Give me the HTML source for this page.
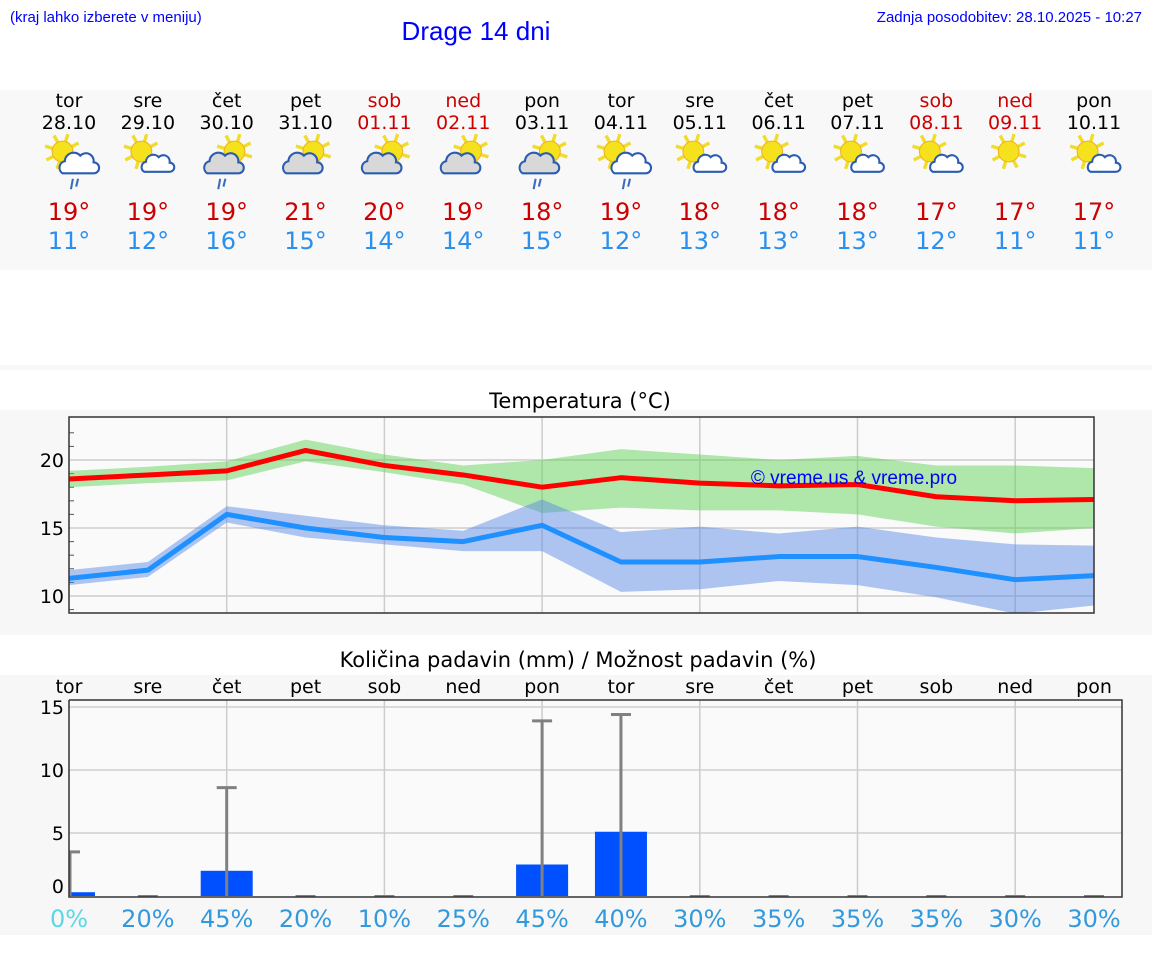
<!DOCTYPE html>
<html><head><meta charset="utf-8">
<style>
html,body{margin:0;padding:0;background:#fff;width:1152px;height:975px;overflow:hidden}
svg{display:block}
</style></head>
<body>
<svg id="root" width="1152" height="975" xmlns="http://www.w3.org/2000/svg">
<rect x="0" y="90" width="1152" height="180" fill="#f8f8f8"/>
<rect x="0" y="365" width="1152" height="5" fill="#f7f7f7"/>
<rect x="0" y="410" width="1152" height="225" fill="#f7f7f7"/>
<rect x="0" y="675" width="1152" height="260" fill="#f7f7f7"/>
<text x="10" y="22" font-family="Liberation Sans, sans-serif" font-size="15" fill="#0000ff">(kraj lahko izberete v meniju)</text>
<text x="476" y="40" text-anchor="middle" font-family="Liberation Sans, sans-serif" font-size="26" fill="#0000ff">Drage 14 dni</text>
<text x="1142" y="22" text-anchor="end" font-family="Liberation Sans, sans-serif" font-size="15" fill="#0000ff">Zadnja posodobitev: 28.10.2025 - 10:27</text>
<g id="days"></g>
<text x="580" y="408" text-anchor="middle" font-family="DejaVu Sans, sans-serif" font-size="21" fill="#000">Temperatura (°C)</text>
<g id="temp"></g>
<text x="578" y="667" text-anchor="middle" font-family="DejaVu Sans, sans-serif" font-size="21" fill="#000">Količina padavin (mm) / Možnost padavin (%)</text>
<g id="precip"></g>
</svg>
<script>
const dayNames=["tor","sre","čet","pet","sob","ned","pon","tor","sre","čet","pet","sob","ned","pon"];
const dates=["28.10","29.10","30.10","31.10","01.11","02.11","03.11","04.11","05.11","06.11","07.11","08.11","09.11","10.11"];
const weekend=[0,0,0,0,1,1,0,0,0,0,0,1,1,0];
const iconType=[2,1,3,4,4,4,3,2,1,1,1,1,0,1];
const tMaxLabel=[19,19,19,21,20,19,18,19,18,18,18,17,17,17];
const tMinLabel=[11,12,16,15,14,14,15,12,13,13,13,12,11,11];
const tMax=[18.6,18.9,19.2,20.7,19.6,18.9,18.0,18.7,18.3,18.1,18.2,17.3,17.0,17.1];
const tMaxHi=[19.2,19.5,19.9,21.5,20.4,19.6,20.0,20.8,20.4,20.0,20.3,19.6,19.6,19.4];
const tMaxLo=[18.0,18.3,18.5,19.9,19.1,18.2,16.1,16.5,16.3,16.3,16.0,15.1,14.6,15.0];
const tMin=[11.3,11.9,16.0,15.0,14.3,14.0,15.2,12.5,12.5,12.9,12.9,12.1,11.2,11.5];
const tMinHi=[11.9,12.5,16.6,15.9,15.2,14.8,17.1,14.7,15.1,14.6,15.1,14.3,13.8,13.7];
const tMinLo=[10.8,11.4,15.4,14.3,13.8,13.3,13.3,10.3,10.5,11.1,10.8,9.9,8.7,9.3];
const tempTicks=[10,15,20];
const precip=[0.3,0,2.0,0,0,0,2.5,5.1,0,0,0,0,0,0];
const precipMax=[3.5,0,8.6,0,0,0,13.9,14.4,0,0,0,0,0,0];
const precipProb=[0,20,45,20,10,25,45,40,30,35,35,35,30,30];
const precipTicks=[0,5,10,15];

const NS="http://www.w3.org/2000/svg";
function mk(tag,attrs,parent,txt){const e=document.createElementNS(NS,tag);for(const k in attrs)e.setAttribute(k,attrs[k]);if(txt!==undefined)e.textContent=txt;parent.appendChild(e);return e;}
const X=i=>69+i*78.85;
const FONT="DejaVu Sans, sans-serif";

const days=document.getElementById('days');
function icon(parent,cx,cy,t){
  const g=mk('g',{transform:`translate(${cx},${cy}) scale(1.3) translate(${-cx},${-cy})`},parent);
  const sx=t===3||t===4?cx+6:cx-5, sy=cy-5;
  const sun=mk('g',{},g);
  
  
  for(let k=0;k<8;k++){const a=k*Math.PI/4+0.3;mk('line',{x1:sx+Math.cos(a)*8,y1:sy+Math.sin(a)*8,x2:sx+Math.cos(a)*14,y2:sy+Math.sin(a)*14,stroke:'#f2dc2a','stroke-width':2.6},sun);}
  mk('circle',{cx:sx,cy:sy,r:8,fill:'#f5e21c',stroke:'#f0b020','stroke-width':0.8},sun);
  if(t===0)return;
  const big=t!==1;
  const ox=t===3||t===4?cx-3:cx+7, oy=cy+5, s=big?0.85:0.7;
  const fill=t===3||t===4?'#d8d8d8':'#fff';
  const p=`M${ox-14*s},${oy+8*s} a${6*s},${6*s} 0 0 1 ${2*s},${-11*s} a${8*s},${8*s} 0 0 1 ${14*s},${-5*s} a${7*s},${7*s} 0 0 1 ${12*s},${6*s} a${5*s},${5*s} 0 0 1 ${0},${10*s} z`;
  const c=mk('path',{d:p,fill:fill,stroke:'#2a5db0','stroke-width':1.6},g);
  
  
  if(t===2||t===3){
    const rx=t===3?cx-5:cx+3;
    mk('line',{x1:rx,y1:oy+11,x2:rx-1.5,y2:oy+19,stroke:'#3a6cc0','stroke-width':1.6},g);
    mk('line',{x1:rx+4,y1:oy+11,x2:rx+2.5,y2:oy+17,stroke:'#3a6cc0','stroke-width':1.6},g);
  }
}
for(let i=0;i<14;i++){
  const x=X(i);const col=weekend[i]?'#cc0000':'#000';
  const g=mk('g',{},days);
  
  
  mk('text',{x:x,y:107,'text-anchor':'middle','font-family':FONT,'font-size':19,fill:col},g,dayNames[i]);
  mk('text',{x:x,y:129,'text-anchor':'middle','font-family':FONT,'font-size':19,fill:col},g,dates[i]);
  icon(g,x,158,iconType[i]);
  const a=mk('text',{x:x,y:220,'text-anchor':'middle','font-family':FONT,'font-size':24,fill:'#cc0000'},g,tMaxLabel[i]+'°');
  
  
  const b=mk('text',{x:x,y:249,'text-anchor':'middle','font-family':FONT,'font-size':24,fill:'#2a90ee'},g,tMinLabel[i]+'°');
  
  
}

const tg=document.getElementById('temp');
const TY=v=>596-(v-10)*13.6;
mk('rect',{x:69,y:417,width:1025,height:196,fill:'#fafafa'},tg);
for(let v=9;v<=22;v++){mk('line',{x1:69,y1:TY(v),x2:74,y2:TY(v),stroke:'#555','stroke-width':1},tg);}
for(const v of tempTicks){
  mk('line',{x1:69,y1:TY(v),x2:1094,y2:TY(v),stroke:'#ccc','stroke-width':1.5},tg);
  const t=mk('text',{x:64,y:TY(v)+7,'text-anchor':'end','font-family':FONT,'font-size':19,fill:'#000'},tg,String(v));
  
  
}
for(let i=2;i<14;i+=2)mk('line',{x1:X(i),y1:417,x2:X(i),y2:613,stroke:'#ccc','stroke-width':1.5},tg);
function band(hi,lo,fill,name){
  let d='';hi.forEach((v,i)=>d+=(i?'L':'M')+X(i)+','+TY(v));
  for(let i=lo.length-1;i>=0;i--)d+='L'+X(i)+','+TY(lo[i]);
  const p=mk('path',{d:d+'Z',fill:fill},tg);
  
  
}
function line(vals,col,name){
  const p=mk('polyline',{points:vals.map((v,i)=>X(i)+','+TY(v)).join(' '),fill:'none',stroke:col,'stroke-width':5,'stroke-linejoin':'round'},tg);
  
  
}
band(tMaxHi,tMaxLo,'rgba(100,210,90,0.5)','max-temp-band');
band(tMinHi,tMinLo,'rgba(80,130,230,0.45)','min-temp-band');
line(tMax,'#ff0000','max-temp-line');
line(tMin,'#1e90ff','min-temp-line');
mk('rect',{x:69,y:417,width:1025,height:196,fill:'none',stroke:'#333','stroke-width':1.5},tg);
const wm=mk('text',{x:854,y:484,'text-anchor':'middle','font-family':'Liberation Sans, sans-serif','font-size':19,fill:'#0000ff'},tg,'© vreme.us & vreme.pro');



const pg=document.getElementById('precip');
const PY=v=>896-v*12.6;
for(let i=0;i<14;i++){
  const t=mk('text',{x:X(i),y:693,'text-anchor':'middle','font-family':FONT,'font-size':19,fill:'#000'},pg,dayNames[i]);
  
  
}
mk('rect',{x:69,y:700,width:1053,height:197,fill:'#fafafa'},pg);
for(const v of precipTicks){
  if(v>0)mk('line',{x1:69,y1:PY(v),x2:1122,y2:PY(v),stroke:'#d0d0d0','stroke-width':1.5},pg);
  const t=mk('text',{x:64,y:PY(v)+(v===0?-3:7),'text-anchor':'end','font-family':FONT,'font-size':19,fill:'#000'},pg,String(v));
  
  
}
for(let i=2;i<14;i+=2)mk('line',{x1:X(i),y1:700,x2:X(i),y2:897,stroke:'#ccc','stroke-width':1.5},pg);
for(let i=0;i<14;i++){
  const x=X(i);
  if(precip[i]>0){
    const x0=Math.max(69,x-26),x1=x+26;
    const r=mk('rect',{x:x0,y:PY(precip[i]),width:x1-x0,height:896-PY(precip[i]),fill:'#0050ff'},pg);
    
    
  }
  if(precipMax[i]>0){
    const ex=Math.max(70,x);
    mk('line',{x1:ex,y1:PY(precipMax[i]),x2:ex,y2:896,stroke:'#808080','stroke-width':3},pg);
    mk('line',{x1:Math.max(69,ex-10),y1:PY(precipMax[i]),x2:ex+10,y2:PY(precipMax[i]),stroke:'#808080','stroke-width':3},pg);
  } else {
    mk('line',{x1:x-10,y1:896,x2:x+10,y2:896,stroke:'#808080','stroke-width':2},pg);
  }
  const t=mk('text',{x:x,y:927,'text-anchor':'middle','font-family':FONT,'font-size':24,fill:precipProb[i]===0?'#5ad8e6':'#3399dd'},pg,precipProb[i]+'%');
  
  
}
mk('polyline',{points:'69,700 1122,700 1122,897 69,897 69,700',fill:'none',stroke:'#333','stroke-width':1.5},pg);
</script>
</body></html>
